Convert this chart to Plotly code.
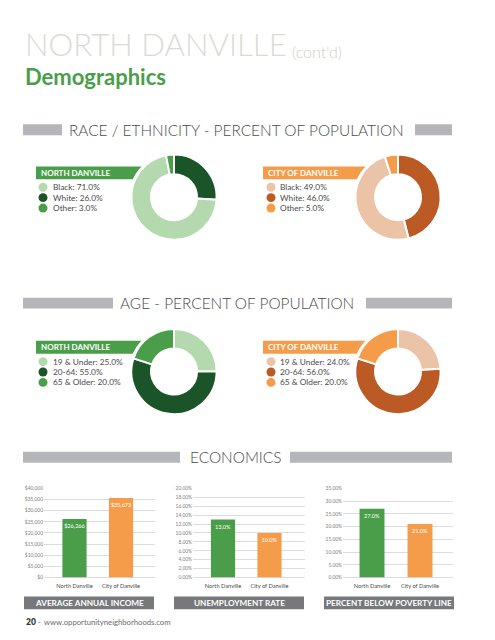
from plotly import graph_objects

W = 495
H = 640

# donuts, in the order they run clockwise from the top
race_labels = ['White', 'Black', 'Other']
race_north = [26.0, 71.0, 3.0]
race_city = [46.0, 49.0, 5.0]
age_labels = ['19 & Under', '20-64', '65 & Older']
age_north = [25.0, 55.0, 20.0]
age_city = [24.0, 56.0, 20.0]

# legend order is not the same as slice order for race
race_legend = ['Black', 'White', 'Other']

places = ['North Danville', 'City of Danville']
income = [26266, 35673]
income_text = ['$26,266', '$35,673']
unemployment = [13.0, 10.0]
unemployment_text = ['13.0%', '10.0%']
poverty = [27.0, 21.0]
poverty_text = ['27.0%', '21.0%']

GREENS = {'light': '#b5d9ae', 'dark': '#1c5429', 'mid': '#4a9e4a'}
ORANGES = {'light': '#ebc4a8', 'dark': '#bb5a24', 'mid': '#f59c4a'}
GREY_BAR = '#b4b6b9'
DARK_BAR = '#77787b'
TEXT = '#4a4a4a'
FONT = 'Lato'


def px(x):
    return x / W


def py(y):
    return 1 - y / H


fig = graph_objects.Figure()
shapes = []
notes = []


def rect(x0, y0, x1, y1, color):
    shapes.append(dict(type='rect', xref='paper', yref='paper', layer='below',
                       x0=px(x0), x1=px(x1), y0=py(y0), y1=py(y1),
                       fillcolor=color, line_width=0))


def note(x, y, text, size, color, anchor='left', weight=400):
    notes.append(dict(xref='paper', yref='paper', x=px(x), y=py(y), text=text,
                      showarrow=False, xanchor=anchor, yanchor='middle',
                      borderpad=0,
                      font=dict(family=FONT, size=size, color=color, weight=weight)))


def section(text, cx, y, x0, x1, x2, x3):
    rect(x0, y - 5.5, x1, y + 5.5, GREY_BAR)
    rect(x2, y - 5.5, x3, y + 5.5, GREY_BAR)
    note(cx, y, text, 15.4, '#4a4a4a', anchor='center', weight=300)


def donut(labels, values, legend, title, palette, cx, cy, band_x, text_x, dot_x):
    colors = [palette['dark'], palette['light'], palette['mid']]
    if labels == age_labels:
        colors = [palette['light'], palette['dark'], palette['mid']]
    r = 43
    fig.add_trace(graph_objects.Pie(
        labels=labels,
        values=values,
        sort=False,
        direction='clockwise',
        rotation=0,
        hole=0.54,
        textinfo='none',
        showlegend=False,
        marker=dict(colors=colors, line=dict(color='white', width=2)),
        domain=dict(x=[px(cx - r), px(cx + r)], y=[py(cy + r), py(cy - r)]),
    ))
    # band runs behind the donut, white disc keeps the gap around it
    rect(band_x, cy - 31, cx - 20, cy - 18, palette['mid'])
    shapes.append(dict(type='circle', xref='paper', yref='paper', layer='below',
                       x0=px(cx - r - 2), x1=px(cx + r + 2),
                       y0=py(cy + r + 2), y1=py(cy - r - 2),
                       fillcolor='white', line_width=0))
    note(band_x + 4, cy - 24.5, title, 8, 'white', weight=700)
    for i, name in enumerate(legend):
        v = values[labels.index(name)]
        y = cy - 10 + i * 10.5
        color = colors[labels.index(name)]
        shapes.append(dict(type='circle', xref='paper', yref='paper', layer='above',
                           x0=px(dot_x - 4.5), x1=px(dot_x + 4.5),
                           y0=py(y + 4.5), y1=py(y - 4.5),
                           fillcolor=color, line_width=0))
        note(text_x, y, f'{name}: {v:.1f}%', 8.3, TEXT)


def bars(n, values, text, colors, x0, x1, center, step, ymax, dtick, prefix, suffix, fmt, caption, cap_x0):
    ax = '' if n == 1 else str(n)
    fig.add_trace(graph_objects.Bar(
        x=places,
        y=values,
        text=text,
        textposition='inside',
        insidetextanchor='end',
        textangle=0,
        constraintext='none',
        insidetextfont=dict(family=FONT, size=5.6, color='white'),
        marker=dict(color=colors, line_width=0),
        width=0.52,
        showlegend=False,
        xaxis='x' + ax,
        yaxis='y' + ax,
    ))
    fig.update_layout({
        'xaxis' + ax: dict(
            domain=[px(x0), px(x1)],
            range=[(x0 - center) / step, (x1 - center) / step],
            anchor='y' + ax, showgrid=False, ticks='', showline=False,
            ticklabelstandoff=4,
            tickfont=dict(family=FONT, size=5.7, color=TEXT), tickangle=0,
        ),
        'yaxis' + ax: dict(
            domain=[py(580), py(490)],
            range=[0, ymax], dtick=dtick, anchor='x' + ax,
            gridcolor='#dcdcdc', gridwidth=1, zeroline=True, zerolinecolor='#dcdcdc',
            zerolinewidth=1, ticks='', showline=False,
            tickprefix=prefix, ticksuffix=suffix, tickformat=fmt,
            tickfont=dict(family=FONT, size=4.9, color='#808080'),
        ),
    })
    rect(cap_x0, 599, cap_x0 + 130, 612, DARK_BAR)
    note(cap_x0 + 65, 605.5, caption, 8.2, 'white', anchor='center', weight=700)


# headings
note(24, 41, 'NORTH DANVILLE', 31.2, '#dadcd4', weight=300)
note(291, 49, "(cont'd)", 16, '#cdd1c6', weight=300)
note(24, 74, 'Demographics', 22, GREENS['mid'], weight=700)

section('RACE / ETHNICITY - PERCENT OF POPULATION', 236.5, 128, 23, 62, 415, 452)
section('AGE - PERCENT OF POPULATION', 237, 303, 23, 113, 366, 452)
section('ECONOMICS', 235.5, 458.5, 23, 180, 290, 452)

donut(race_labels, race_north, race_legend, 'NORTH DANVILLE', GREENS, 174, 196, 36, 52, 43)
donut(race_labels, race_city, race_legend, 'CITY OF DANVILLE', ORANGES, 398, 196, 263, 279, 271)
donut(age_labels, age_north, age_labels, 'NORTH DANVILLE', GREENS, 174, 372, 36, 52, 43)
donut(age_labels, age_city, age_labels, 'CITY OF DANVILLE', ORANGES, 398, 372, 263, 279, 271)

pair = [GREENS['mid'], ORANGES['mid']]
bars(1, income, income_text, pair, 44, 155, 74.5, 46.5, 40000, 5000, '$', '', ',', 'AVERAGE ANNUAL INCOME', 24)
bars(2, unemployment, unemployment_text, pair, 193, 305, 223, 46.5, 20, 2, '', '%', '.2f', 'UNEMPLOYMENT RATE', 174)
bars(3, poverty, poverty_text, pair, 343, 453, 372, 48, 35, 5, '', '%', '.2f', 'PERCENT BELOW POVERTY LINE', 324)

# footer
note(25, 625, '20', 8.5, '#3c3c3c', weight=800)
note(37, 625, '-', 7.5, '#6a6a6a')
note(43, 625, 'www.opportunityneighborhoods.com', 7.7, '#6a6a6a')

fig.update_layout(
    width=W,
    height=H,
    margin=dict(l=0, r=0, t=0, b=0),
    paper_bgcolor='white',
    plot_bgcolor='white',
    shapes=shapes,
    annotations=notes,
    font=dict(family=FONT),
)

fig.write_html("out.html", config=dict(displayModeBar=False),
               post_script="document.body.style.margin='0';")
